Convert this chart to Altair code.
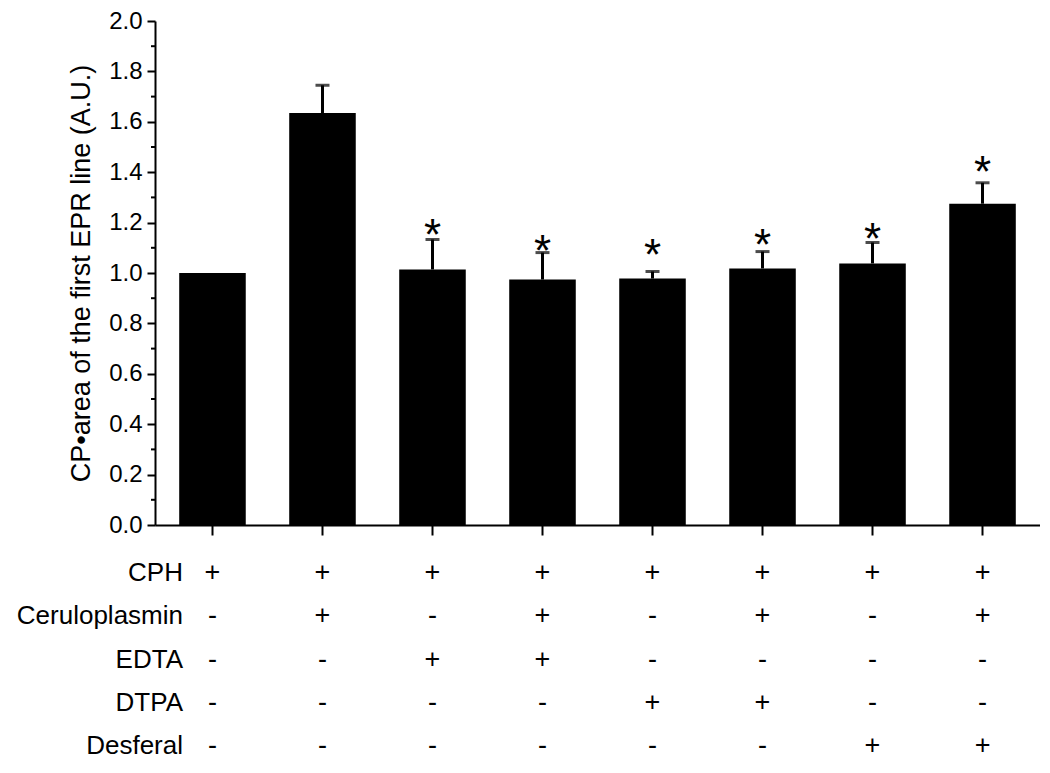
import altair as alt
import pandas as pd

# ---------------- data ----------------
groups = ["G1", "G2", "G3", "G4", "G5", "G6", "G7", "G8"]
means = [1.000, 1.635, 1.014, 0.974, 0.978, 1.018, 1.038, 1.275]
errors = [0.000, 0.110, 0.119, 0.107, 0.028, 0.067, 0.083, 0.083]
star_y = [None, None, 1.196, 1.129, 1.117, 1.156, 1.180, 1.446]

y_ticks = [0.0, 0.2, 0.4, 0.6, 0.8, 1.0, 1.2, 1.4, 1.6, 1.8, 2.0]
minor_ticks = [0.1, 0.3, 0.5, 0.7, 0.9, 1.1, 1.3, 1.5, 1.7, 1.9]

rows = ["CPH", "Ceruloplasmin", "EDTA", "DTPA", "Desferal"]
cph = ["+", "+", "+", "+", "+", "+", "+", "+"]
ceruloplasmin = ["-", "+", "-", "+", "-", "+", "-", "+"]
edta = ["-", "-", "+", "+", "-", "-", "-", "-"]
dtpa = ["-", "-", "-", "-", "+", "+", "-", "-"]
desferal = ["-", "-", "-", "-", "-", "-", "+", "+"]
sign_rows = [cph, ceruloplasmin, edta, dtpa, desferal]

y_title = "CP\u2022area of the first EPR line (A.U.)"

# ---------------- tables ----------------
bars_df = pd.DataFrame({
    "group": groups,
    "mean": means,
    "err": errors,
})
bars_df["upper"] = bars_df["mean"] + bars_df["err"]
err_df = bars_df[bars_df["err"] > 0].copy()

star_df = pd.DataFrame({"group": groups, "star": star_y}).dropna()

minor_df = pd.DataFrame({"minor": minor_ticks})

table_df = pd.DataFrame(
    [{"group": g, "row": r, "sign": s}
     for r, srow in zip(rows, sign_rows) for g, s in zip(groups, srow)]
)
rowlab_df = pd.DataFrame({"row": rows})

FONT = "Liberation Sans"
BLACK = "#000000"

x_scale = alt.Scale(domain=groups, paddingInner=0.395, paddingOuter=0.22)
x_axis = alt.Axis(labels=False, title=None, ticks=True, tickSize=10, tickWidth=2,
                  tickColor=BLACK, domain=True, domainWidth=2, domainColor=BLACK,
                  grid=False)
x_enc = alt.X("group:N", sort=None, scale=x_scale, axis=x_axis)

y_scale = alt.Scale(domain=[0, 2], nice=False, zero=True)
y_axis = alt.Axis(values=y_ticks, format=".1f", title=y_title, grid=False,
                  tickSize=8, tickWidth=2, tickColor=BLACK,
                  domainWidth=2, domainColor=BLACK,
                  labelFont=FONT, labelFontSize=24, labelColor=BLACK, labelPadding=5,
                  titleFont=FONT, titleFontSize=27, titleFontWeight="normal",
                  titleColor=BLACK, titlePadding=13)


def yq(field):
    return alt.Y(f"{field}:Q", scale=y_scale, axis=y_axis)


bars = alt.Chart(bars_df).mark_bar(color=BLACK).encode(x=x_enc, y=yq("mean"))

err_rule = alt.Chart(err_df).mark_rule(color=BLACK, strokeWidth=3).encode(
    x=x_enc, y=yq("mean"), y2="upper:Q")

err_cap = alt.Chart(err_df).mark_tick(color=BLACK, size=14, thickness=3,
                                      orient="horizontal").encode(
    x=x_enc, y=yq("upper"))

stars = alt.Chart(star_df).mark_text(text="*", font=FONT, fontSize=44, color=BLACK,
                                     baseline="alphabetic", dy=26).encode(
    x=x_enc, y=yq("star"))

minor = alt.Chart(minor_df).mark_rule(color=BLACK, strokeWidth=2).encode(
    y=yq("minor"), x=alt.value(-4), x2=alt.value(0))

main = alt.layer(bars, err_rule, err_cap, stars, minor)

row_scale = alt.Scale(domain=rows, range=[552, 725], padding=0)
row_enc = alt.Y("row:N", sort=None, scale=row_scale, axis=None)

signs = alt.Chart(table_df).mark_text(font=FONT, fontSize=27, color=BLACK,
                                      baseline="middle", align="center").encode(
    x=x_enc, y=row_enc, text="sign:N")

row_labels = alt.Chart(rowlab_df).mark_text(font=FONT, fontSize=26, color=BLACK,
                                            baseline="middle", align="right").encode(
    x=alt.value(28), y=row_enc, text="row:N")

table = alt.layer(signs, row_labels)

chart = alt.layer(main, table).resolve_scale(y="independent").properties(
    width=885,
    height=504,
    autosize=alt.AutoSizeParams(type="none"),
    padding={"left": 147, "top": 13, "right": 0, "bottom": 238},
    background="white",
).configure_view(stroke=None)

chart.save("out.html", embed_options={"renderer": "svg", "actions": False})
